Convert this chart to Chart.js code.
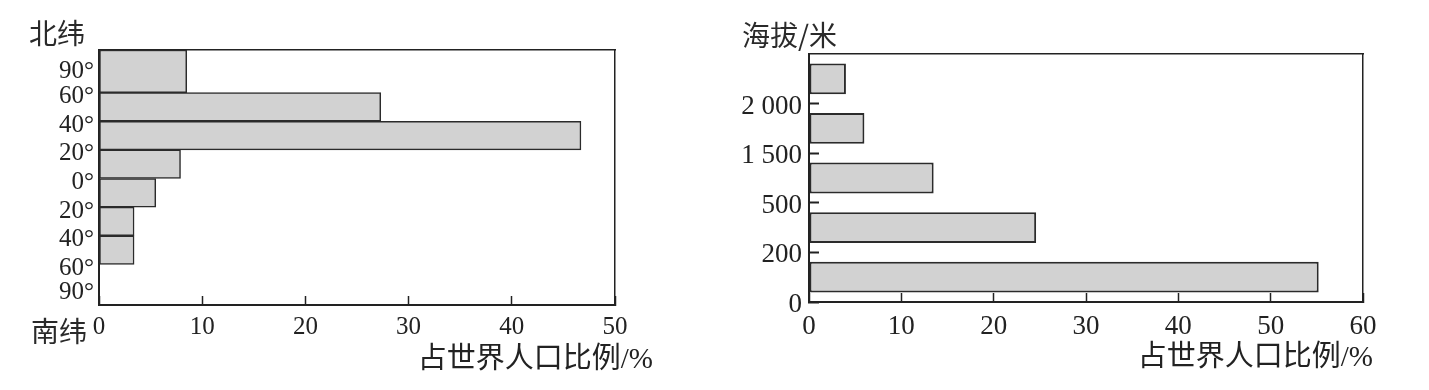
<!DOCTYPE html>
<html>
<head>
<meta charset="utf-8">
<script src="https://cdn.jsdelivr.net/npm/chart.js@4/dist/chart.umd.min.js"></script>
<style>
  html, body { margin: 0; padding: 0; background: #fff; }
  body { width: 1429px; height: 390px; position: relative; overflow: hidden; }
  .box { position: absolute; top: 0; height: 390px; }
  .lbl { position: absolute; font-family: 'Noto Sans CJK SC', sans-serif; font-size: 28px; line-height: 28px; color: #2a2a2a; white-space: nowrap; }
</style>
</head>
<body>
<div class="box" style="left:0;width:700px"><canvas id="latChart"></canvas></div>
<div class="box" style="left:700px;width:729px"><canvas id="elevChart"></canvas></div>
<div class="lbl" style="left:29px;top:18px">北纬</div>
<div class="lbl" style="left:31px;top:316px">南纬</div>
<div class="lbl" style="left:742px;top:20px">海拔/米</div>
<script>
// ---------- data: latitude chart ----------
const LAT_TICK_LABELS = ['90°', '60°', '40°', '20°', '0°', '20°', '40°', '60°', '90°'];
// where each latitude label sits on the axis (band-edge units)
const LAT_TICK_POS = [0.13, 1, 2, 3, 4, 5, 6, 7, 7.85];
const LAT_BANDS = ['90°N-60°N', '60°N-40°N', '40°N-20°N', '20°N-0°', '0°-20°S', '20°S-40°S', '40°S-60°S', '60°S-90°S'];
const LAT_VALUES = [8.5, 27.3, 46.7, 7.9, 5.5, 3.4, 3.4, 0];
// band edges on the latitude axis (outer bands reach the frame)
const LAT_EDGES = [-0.49, 1, 2, 3, 4, 5, 6, 7, 8.42];
const LAT_X_MAX = 50;

// ---------- data: elevation chart ----------
const ELEV_TICK_LABELS = ['0', '200', '500', '1 500', '2 000'];
const ELEV_BANDS = ['0-200', '200-500', '500-1500', '1500-2000', '>2000'];
const ELEV_VALUES = [55.2, 24.6, 13.5, 6.0, 4.0];
const ELEV_X_MAX = 60;

const X_TITLE = '占世界人口比例/%';

// ---------- styles ----------
const INK = '#222';
const BAR_FILL = '#d2d2d2';
const BAR_EDGE = '#2b2b2b';
const SERIF = "'Liberation Serif', 'Noto Sans CJK SC', serif";

function frameAxis(position, size) {
  return {
    type: 'linear',
    position: position,
    display: true,
    offset: false,
    ticks: { display: false },
    grid: { display: true, offset: false, drawOnChartArea: false, drawTicks: false },
    border: { display: true, color: INK, width: 1.5 },
    afterFit: function (s) { if (position === 'top' || position === 'bottom') s.height = size; else s.width = size; }
  };
}

// ---------- latitude chart ----------
const latDatasets = LAT_VALUES.map(function (v, i) {
  const lo = LAT_EDGES[i], hi = LAT_EDGES[i + 1];
  return {
    label: LAT_BANDS[i],
    data: [{ x: v, y: (lo + hi) / 2 }],
    grouped: false,
    barThickness: function (ctx) {
      const s = ctx.chart.scales.y;
      if (!s) return undefined;
      const t = Math.abs(s.getPixelForValue(hi) - s.getPixelForValue(lo));
      return isFinite(t) && t > 0 ? t : undefined;
    },
    backgroundColor: BAR_FILL,
    borderColor: BAR_EDGE,
    borderWidth: 1.5,
    borderSkipped: false
  };
});

new Chart(document.getElementById('latChart'), {
  type: 'bar',
  data: { datasets: latDatasets },
  options: {
    indexAxis: 'y',
    responsive: true,
    maintainAspectRatio: false,
    animation: false,
    layout: { padding: { left: 0, right: 47, top: 50, bottom: 15 } },
    plugins: {
      legend: { display: false },
      tooltip: { enabled: false },
      title: {
        display: true, text: X_TITLE, position: 'bottom', align: 'end',
        color: INK, font: { family: SERIF, size: 29, weight: 'normal', lineHeight: 1 },
        padding: 0
      }
    },
    scales: {
      x: {
        type: 'linear', min: 0, max: LAT_X_MAX, offset: false,
        ticks: { stepSize: 10, padding: 16, color: INK, font: { family: SERIF, size: 25 } },
        grid: { display: true, offset: false, drawOnChartArea: false, drawTicks: true, tickLength: -9, tickColor: INK, tickWidth: 1.5 },
        border: { display: true, color: INK, width: 2 },
        afterFit: function (s) { s.height = 41; }
      },
      y: {
        type: 'linear', reverse: true, offset: false,
        min: LAT_EDGES[0], max: LAT_EDGES[LAT_EDGES.length - 1],
        afterBuildTicks: function (s) { s.ticks = LAT_TICK_POS.map(function (p) { return { value: p }; }); },
        ticks: { autoSkip: false, padding: 5, labelOffset: 4, color: INK, font: { family: SERIF, size: 25 },
                 callback: function (v, i) { return LAT_TICK_LABELS[i]; } },
        grid: { display: true, offset: false, drawOnChartArea: false, drawTicks: false },
        border: { display: true, color: INK, width: 2 },
        afterFit: function (s) { s.width = 99; }
      },
      xTop: frameAxis('top', 0),
      yRight: frameAxis('right', 38)
    }
  }
});

// ---------- elevation chart ----------
new Chart(document.getElementById('elevChart'), {
  type: 'bar',
  data: {
    datasets: [{
      label: '海拔',
      data: ELEV_VALUES.map(function (v, i) { return { x: v, y: i + 0.5 }; }),
      categoryPercentage: 1,
      barPercentage: 0.62,
      backgroundColor: BAR_FILL,
      borderColor: BAR_EDGE,
      borderWidth: 2,
      borderSkipped: false
    }]
  },
  options: {
    indexAxis: 'y',
    responsive: true,
    maintainAspectRatio: false,
    animation: false,
    layout: { padding: { left: 0, right: 56, top: 54, bottom: 17 } },
    plugins: {
      legend: { display: false },
      tooltip: { enabled: false },
      title: {
        display: true, text: X_TITLE, position: 'bottom', align: 'end',
        color: INK, font: { family: SERIF, size: 29, weight: 'normal', lineHeight: 1 },
        padding: 0
      }
    },
    scales: {
      x: {
        type: 'linear', min: 0, max: ELEV_X_MAX, offset: false,
        ticks: { stepSize: 10, padding: 18, color: INK, font: { family: SERIF, size: 27 } },
        grid: { display: true, offset: false, drawOnChartArea: false, drawTicks: true, tickLength: -9, tickColor: INK, tickWidth: 1.5 },
        border: { display: true, color: INK, width: 2 },
        afterFit: function (s) { s.height = 42; }
      },
      y: {
        type: 'linear', min: 0, max: ELEV_TICK_LABELS.length, offset: false,
        afterBuildTicks: function (s) { s.ticks = ELEV_TICK_LABELS.map(function (_, i) { return { value: i }; }); },
        ticks: { autoSkip: false, padding: 17, labelOffset: 3, color: INK, font: { family: SERIF, size: 27 },
                 callback: function (v) { return ELEV_TICK_LABELS[v]; } },
        grid: { display: true, offset: false, drawOnChartArea: false, drawTicks: true, tickLength: -10, tickColor: INK, tickWidth: 2 },
        border: { display: true, color: INK, width: 2 },
        afterFit: function (s) { s.width = 109; }
      },
      xTop: frameAxis('top', 0),
      yRight: frameAxis('right', 10)
    }
  }
});
</script>
</body>
</html>
